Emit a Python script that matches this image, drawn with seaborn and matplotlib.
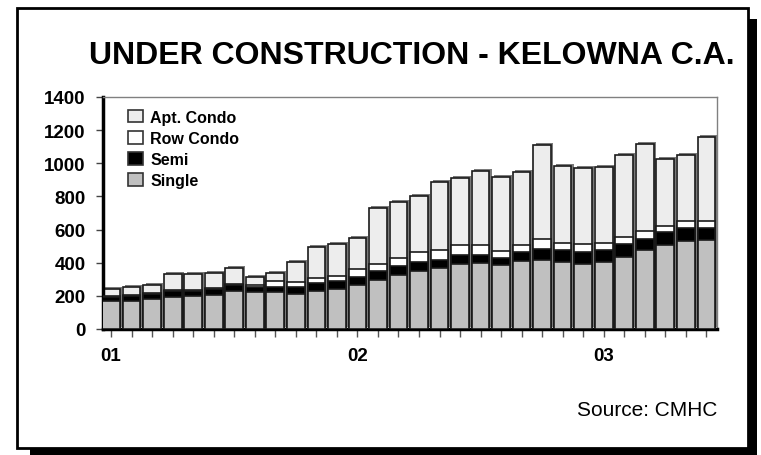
import numpy as np
import pandas as pd
import seaborn as sns
import matplotlib
matplotlib.use("Agg")
import matplotlib.pyplot as plt
from matplotlib.patches import Rectangle, Patch
import matplotlib.patheffects as pe

# ---------------- data ----------------
months = ["Jan01", "Feb01", "Mar01", "Apr01", "May01", "Jun01", "Jul01", "Aug01", "Sep01", "Oct01",
          "Nov01", "Dec01", "Jan02", "Feb02", "Mar02", "Apr02", "May02", "Jun02", "Jul02", "Aug02",
          "Sep02", "Oct02", "Nov02", "Dec02", "Jan03", "Feb03", "Mar03", "Apr03", "May03", "Jun03"]
tick_labels = ["01", "", "", "", "", "", "", "", "", "", "", "",
               "02", "", "", "", "", "", "", "", "", "", "", "",
               "03", "", "", "", "", ""]
single = [166, 168, 182, 194, 202, 206, 232, 224, 224, 214, 228, 240, 264, 294, 328,
          348, 370, 394, 400, 388, 408, 414, 404, 390, 404, 436, 478, 508, 530, 536]
semi = [26, 30, 32, 34, 30, 36, 36, 30, 30, 40, 52, 52, 50, 54, 54,
        56, 48, 50, 44, 42, 56, 66, 74, 74, 70, 74, 66, 76, 78, 72]
row_condo = [6, 6, 6, 6, 6, 6, 6, 10, 34, 30, 30, 28, 46, 44, 48,
             60, 60, 60, 60, 40, 40, 62, 42, 46, 46, 44, 46, 40, 42, 42]
apt_condo = [44, 48, 46, 96, 96, 92, 94, 48, 48, 120, 184, 192, 190, 336, 338,
             340, 412, 410, 450, 448, 446, 566, 464, 464, 460, 494, 524, 400, 398, 510]
series_names = ["Apt. Condo", "Row Condo", "Semi", "Single"]
series_colors = ["#ededed", "#ffffff", "#000000", "#c0c0c0"]

df = pd.DataFrame({"month": months, "Single": single, "Semi": semi,
                   "Row Condo": row_condo, "Apt. Condo": apt_condo})
df["c_single"] = df["Single"]
df["c_semi"] = df["c_single"] + df["Semi"]
df["c_row"] = df["c_semi"] + df["Row Condo"]
df["c_apt"] = df["c_row"] + df["Apt. Condo"]

# ---------------- figure ----------------
W, H = 761, 456
fig = plt.figure(figsize=(W / 100, H / 100), dpi=100)
fig.patch.set_facecolor("white")

def fx(px):
    return px / W

def fy(py):
    return 1 - py / H

# drop shadow + frame
fig.add_artist(Rectangle((fx(30), fy(456)), fx(757) - fx(30), fy(20) - fy(456),
                         transform=fig.transFigure, facecolor="black", edgecolor="none", zorder=-3))
fig.add_artist(Rectangle((fx(16.5), fy(448.5)), fx(748) - fx(16.5), fy(8.5) - fy(448.5),
                         transform=fig.transFigure, facecolor="white", edgecolor="black",
                         linewidth=2, zorder=-2))

ax = fig.add_axes([fx(102.5), fy(330), fx(717) - fx(102.5), fy(98) - fy(330)])
ax.set_facecolor("white")

bar_w = 0.86
layers = [("c_apt", series_colors[0]), ("c_row", series_colors[1]),
          ("c_semi", series_colors[2]), ("c_single", series_colors[3])]
for i, (col, colr) in enumerate(layers):
    sns.barplot(data=df, x="month", y=col, order=months, color=colr, width=bar_w,
                saturation=1, edgecolor="#1a1a1a", linewidth=1.2, ax=ax, zorder=2 + i)

# 3D-ish shading on the full-height bars
n = len(months)
for p in ax.patches[:n]:
    p.set_path_effects([pe.SimplePatchShadow(offset=(1.6, 1.4), shadow_rgbFace="#7a7a7a", alpha=1),
                        pe.Normal()])

ax.set_xlim(-0.42, n - 1 + 0.52)
ax.set_ylim(0, 1400)
ax.set_yticks(np.arange(0, 1401, 200))
ax.set_xticks(range(n))
ax.set_xticklabels(tick_labels)
ax.set_xlabel("")
ax.set_ylabel("")

for lab in ax.get_xticklabels() + ax.get_yticklabels():
    lab.set_fontfamily(["Liberation Sans", "DejaVu Sans"])
    lab.set_fontweight("bold")
    lab.set_fontsize(13.5)
ax.tick_params(axis="y", direction="out", length=5, width=1, color="#444444", pad=7)
ax.tick_params(axis="x", direction="out", length=6, width=1, color="#555555", pad=7)

ax.spines["left"].set_linewidth(2.5)
ax.spines["left"].set_color("black")
ax.spines["bottom"].set_linewidth(2.5)
ax.spines["bottom"].set_color("black")
ax.spines["top"].set_linewidth(1)
ax.spines["top"].set_color("#808080")
ax.spines["right"].set_linewidth(1)
ax.spines["right"].set_color("#808080")
ax.grid(False)

handles = [Patch(facecolor=c, edgecolor="#333333", linewidth=1.2) for c in series_colors]
leg = ax.legend(handles, series_names, loc="upper left",
                bbox_to_anchor=((128 - 102.5) / (717 - 102.5), 0.945),
                frameon=False, borderaxespad=0, borderpad=0,
                handlelength=0.95, handleheight=0.82, handletextpad=0.45, labelspacing=0.38,
                prop={"family": ["Liberation Sans", "DejaVu Sans"], "weight": "bold", "size": 11.5})

fig.text(fx(412), fy(56), "UNDER CONSTRUCTION - KELOWNA C.A.", ha="center", va="center",
         fontsize=23, fontweight="bold", family=["Liberation Sans", "DejaVu Sans"])
fig.text(fx(717), fy(411), "Source: CMHC", ha="right", va="center",
         fontsize=15, family=["Liberation Sans", "DejaVu Sans"])

fig.savefig("out.png", dpi=100, facecolor="white")
